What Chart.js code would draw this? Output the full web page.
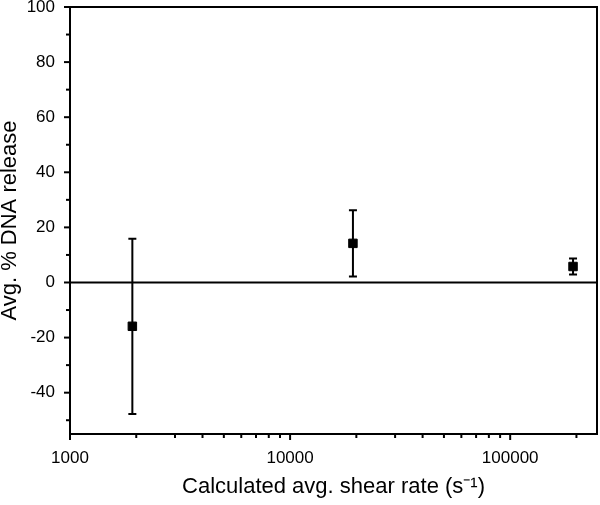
<!DOCTYPE html>
<html>
<head>
<meta charset="utf-8">
<script src="https://cdn.jsdelivr.net/npm/chart.js@4/dist/chart.umd.min.js"></script>
<style>
  html, body { margin: 0; padding: 0; background: #fff; }
  #wrap { width: 600px; height: 505px; }
</style>
</head>
<body>
<div id="wrap"><canvas id="chart"></canvas></div>
<script>
// shear rate (s^-1) and average % DNA release with error
var shearRates = [1920, 19300, 193000];
var dnaRelease = [-15.9, 14.2, 5.8];
var errors = [31.8, 12.0, 2.9];
var yTicks = [-50, -40, -30, -20, -10, 0, 10, 20, 30, 40, 50, 60, 70, 80, 90, 100];
var xMajor = [1000, 10000, 100000];

var fontName = "'Liberation Sans', Arial, sans-serif";

// tick marks, frame and error bars
var extras = {
    id: 'extras',
    afterDatasetsDraw: function (chart) {
        var ctx = chart.ctx;
        var xs = chart.scales.x, ys = chart.scales.y;
        var a = chart.chartArea;
        ctx.save();
        ctx.strokeStyle = '#000';
        ctx.lineWidth = 2;
        // zero line
        var y0 = ys.getPixelForValue(0);
        ctx.beginPath(); ctx.moveTo(a.left, y0); ctx.lineTo(a.right, y0); ctx.stroke();
        // error bars
        for (var i = 0; i < shearRates.length; i++) {
            var px = xs.getPixelForValue(shearRates[i]);
            var top = ys.getPixelForValue(dnaRelease[i] + errors[i]);
            var bot = ys.getPixelForValue(dnaRelease[i] - errors[i]);
            ctx.beginPath();
            ctx.moveTo(px, top); ctx.lineTo(px, bot);
            ctx.moveTo(px - 4, top); ctx.lineTo(px + 4, top);
            ctx.moveTo(px - 4, bot); ctx.lineTo(px + 4, bot);
            ctx.stroke();
        }
        // frame
        ctx.strokeRect(a.left, a.top, a.right - a.left, a.bottom - a.top);
        // y ticks
        yTicks.forEach(function (v) {
            var py = ys.getPixelForValue(v);
            var len = (v % 20 === 0) ? 6 : 4;
            ctx.beginPath(); ctx.moveTo(a.left - len, py); ctx.lineTo(a.left, py); ctx.stroke();
        });
        // x ticks
        for (var d = 1000; d <= 100000; d *= 10) {
            for (var m = 1; m <= 9; m++) {
                var v = d * m;
                if (v > xs.max) break;
                var qx = xs.getPixelForValue(v);
                var l = (m === 1) ? 6 : 4;
                ctx.beginPath(); ctx.moveTo(qx, a.bottom); ctx.lineTo(qx, a.bottom + l); ctx.stroke();
            }
        }
        ctx.restore();
    }
};

var ctx = document.getElementById('chart').getContext('2d');
var chart = new Chart(ctx, {
    type: 'scatter',
    data: {
        datasets: [{
            label: 'Avg. % DNA release',
            data: shearRates.map(function (x, i) { return { x: x, y: dnaRelease[i] }; }),
            pointStyle: 'rect',
            pointRadius: 6,
            pointHoverRadius: 6,
            backgroundColor: '#000',
            borderColor: '#000',
            borderWidth: 1
        }]
    },
    options: {
        responsive: true,
        maintainAspectRatio: false,
        animation: false,
        layout: { autoPadding: false, padding: { left: 0, right: 3, top: 7, bottom: 0 } },
        plugins: {
            legend: { display: false },
            tooltip: { enabled: false }
        },
        scales: {
            x: {
                type: 'logarithmic',
                min: 1000,
                max: 248000,
                grid: { display: false, drawTicks: false },
                border: { display: false },
                afterBuildTicks: function (scale) {
                    scale.ticks = xMajor.map(function (v) { return { value: v }; });
                },
                afterFit: function (scale) {
                    scale.height = 71;
                    scale.paddingLeft = 0; scale.paddingRight = 0;
                },
                ticks: {
                    color: '#000',
                    padding: 14,
                    maxRotation: 0,
                    autoSkip: false,
                    font: { family: fontName, size: 17 },
                    callback: function (v) { return String(v); }
                },
                title: {
                    display: true,
                    text: 'Calculated avg. shear rate (s\u207B\u00B9)',
                    color: '#000',
                    font: { family: fontName, size: 22 },
                    padding: { top: 0, bottom: 5 }
                }
            },
            y: {
                min: -55,
                max: 100,
                grid: { display: false, drawTicks: false },
                border: { display: false },
                afterBuildTicks: function (scale) {
                    scale.ticks = yTicks.filter(function (v) { return v % 20 === 0; })
                        .map(function (v) { return { value: v }; });
                },
                afterFit: function (scale) {
                    scale.width = 70;
                    scale.paddingTop = 0; scale.paddingBottom = 0;
                },
                ticks: {
                    color: '#000',
                    padding: 15,
                    autoSkip: false,
                    font: { family: fontName, size: 17 }
                },
                title: {
                    display: true,
                    text: 'Avg. % DNA release',
                    color: '#000',
                    font: { family: fontName, size: 22 },
                    padding: { top: -3, bottom: 0 }
                }
            }
        }
    },
    plugins: [extras]
});
</script>
</body>
</html>
